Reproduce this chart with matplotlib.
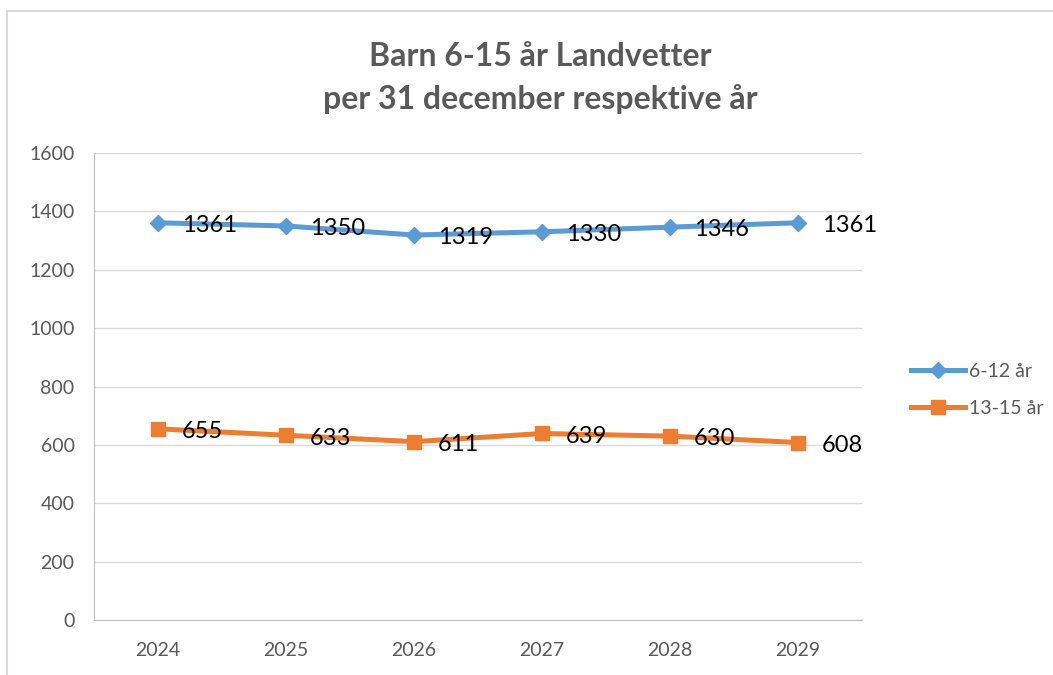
import matplotlib
matplotlib.use("Agg")
import matplotlib.pyplot as plt
from matplotlib.patches import Rectangle

years = ["2024", "2025", "2026", "2027", "2028", "2029"]
series_a_name = "6-12 år"
series_a = [1361, 1350, 1319, 1330, 1346, 1361]
series_b_name = "13-15 år"
series_b = [655, 633, 611, 639, 630, 608]
title = "Barn 6-15 år Landvetter\nper 31 december respektive år"

plt.rcParams['font.family'] = ['Lato', 'DejaVu Sans']
grey = "#595959"
blue = "#5B9BD5"
orange = "#ED7D31"

fig = plt.figure(figsize=(10.53, 6.75), dpi=100)
ax = fig.add_axes([94/1053, 1-620/675, (862-94)/1053, (620-153)/675])

x = list(range(len(years)))
ax.plot(x, series_a, color=blue, lw=3.6, marker="D", ms=8, label=series_a_name, zorder=3)
ax.plot(x, series_b, color=orange, lw=3.6, marker="s", ms=10, label=series_b_name, zorder=3)

for xi, v in zip(x, series_a):
    ax.annotate(str(v), (xi, v), xytext=(17, -2), textcoords="offset points",
                ha="left", va="center", fontsize=17, color="black")
for xi, v in zip(x, series_b):
    ax.annotate(str(v), (xi, v), xytext=(17, -2), textcoords="offset points",
                ha="left", va="center", fontsize=17, color="black")

ax.set_xlim(-0.5, 5.5)
ax.set_ylim(0, 1600)
ax.set_yticks(range(0, 1601, 200))
ax.set_xticks(x)
ax.set_xticklabels(years)
ax.grid(axis="y", color="#D9D9D9", lw=1)
ax.set_axisbelow(True)
for s in ["top", "right"]:
    ax.spines[s].set_visible(False)
ax.spines["left"].set_color("#BFBFBF")
ax.spines["bottom"].set_color("#BFBFBF")
ax.tick_params(axis="both", length=0, colors=grey, labelsize=14)
ax.tick_params(axis="y", pad=14)
ax.tick_params(axis="x", pad=16)

fig.text(0.513, 1-78/675, title, ha="center", va="center", fontsize=23,
         fontweight="bold", color=grey, linespacing=1.5)

leg = fig.legend(loc="center left", bbox_to_anchor=(893/1053, 1-390/675),
                 frameon=False, fontsize=14, handlelength=2.8, labelspacing=1.0,
                 handletextpad=0.2)
for t in leg.get_texts():
    t.set_color(grey)

fig.patches.append(Rectangle((7/1053, -0.1), 1.2, 1-11/675+0.1, transform=fig.transFigure,
                             fill=False, edgecolor="#D9D9D9", lw=1.5))

fig.savefig("out.png", dpi=100)
